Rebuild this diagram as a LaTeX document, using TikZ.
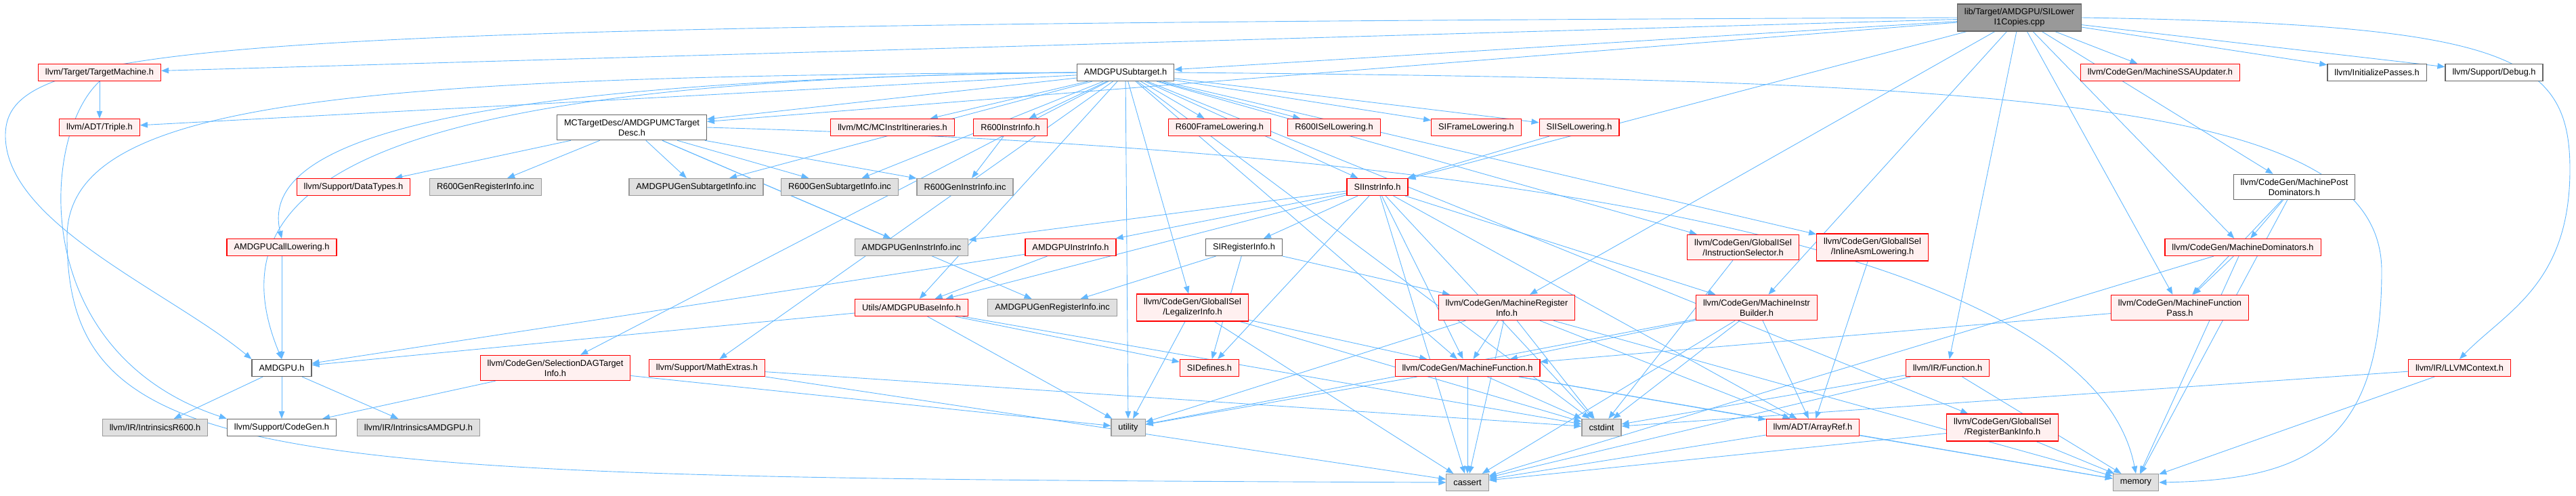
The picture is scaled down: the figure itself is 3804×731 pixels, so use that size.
\documentclass[tikz,border=0pt]{standalone}
\usepackage{fontspec}
\setmainfont{Liberation Sans}
\usetikzlibrary{arrows.meta, backgrounds}
\definecolor{edgec}{HTML}{63B8FF}
\definecolor{redc}{HTML}{FF0000}
\definecolor{redf}{HTML}{FFF0F0}
\definecolor{grayf}{HTML}{E0E0E0}
\definecolor{grayd}{HTML}{999999}
\definecolor{plaind}{HTML}{666666}
\tikzset{
  box/.style={rectangle, line width=1.2pt, inner xsep=10.5pt, inner ysep=6.5pt,
    minimum height=25pt, align=center, font=\fontsize{12.8}{15}\selectfont},
  hdr/.style={box, draw=redc, fill=redf},
  gen/.style={box, draw=grayd, fill=grayf},
  plain/.style={box, draw=plaind, fill=white},
  topfile/.style={box, draw=plaind, fill=grayd},
  dep/.style={-{Triangle[length=11pt,width=8.5pt]}, edgec, line width=0.9pt},
}

\begin{document}
\begin{tikzpicture}[x=1pt, y=-1pt]
    \useasboundingbox (0,0) rectangle (3804,731);
    \node[topfile] (root) at (2982,26) {lib/Target/AMDGPU/SILower\\I1Copies.cpp};
    % headers drawn red
    \foreach \n/\x/\y/\t in {tm/147/107/{llvm/Target/TargetMachine.h},
        triple/147/188/{llvm/ADT/Triple.h}, mcii/1318/188/{llvm/MC/MCInstrItineraries.h},
        r6ii/1492/188/{R600InstrInfo.h}, r6fl/1801/188/{R600FrameLowering.h},
        r6isel/1970/188/{R600ISelLowering.h}, sifl/2180/188/{SIFrameLowering.h},
        siisel/2332/188/{SIISelLowering.h}, ssa/3190/107/{llvm/CodeGen/MachineSSAUpdater.h},
        dtypes/522/276/{llvm/Support/DataTypes.h}, siii/2034/276/{SIInstrInfo.h},
        callow/416/365/{AMDGPUCallLowering.h}, aii/1581/365/{AMDGPUInstrInfo.h},
        isel/2574/365/{llvm/CodeGen/GlobalISel\\/InstructionSelector.h},
        asml/2765/365/{llvm/CodeGen/GlobalISel\\/InlineAsmLowering.h},
        mdom/3312/365/{llvm/CodeGen/MachineDominators.h}, binfo/1346/454/{Utils/AMDGPUBaseInfo.h},
        legal/1761/454/{llvm/CodeGen/GlobalISel\\/LegalizerInfo.h},
        mri/2225/454/{llvm/CodeGen/MachineRegister\\Info.h},
        mib/2594/454/{llvm/CodeGen/MachineInstr\\Builder.h},
        mfp/3219/454/{llvm/CodeGen/MachineFunction\\Pass.h},
        sdag/820/543/{llvm/CodeGen/SelectionDAGTarget\\Info.h},
        mathx/1044/543/{llvm/Support/MathExtras.h}, sidef/1786/543/{SIDefines.h},
        mf/2167/543/{llvm/CodeGen/MachineFunction.h}, func/2876/543/{llvm/IR/Function.h},
        ctx/3632/543/{llvm/IR/LLVMContext.h}, aref/2677/631/{llvm/ADT/ArrayRef.h},
        rbi/2957/631/{llvm/CodeGen/GlobalISel\\/RegisterBankInfo.h}}
      \node[hdr] (\n) at (\x,\y) {\t};
    % generated / system files
    \foreach \n/\x/\y/\t in {r6gri/717/276/{R600GenRegisterInfo.inc},
        agsi/1028/276/{AMDGPUGenSubtargetInfo.inc}, r6gsi/1240/276/{R600GenSubtargetInfo.inc},
        r6gii/1425/276/{R600GenInstrInfo.inc}, agii/1346/365/{AMDGPUGenInstrInfo.inc},
        agri/1554/454/{AMDGPUGenRegisterInfo.inc}, ir600/229/631/{llvm/IR/IntrinsicsR600.h},
        iamd/618/631/{llvm/IR/IntrinsicsAMDGPU.h}, util/1666/631/{utility},
        cstd/2365/631/{cstdint}, cass/2167/712/{cassert}, mem/3154/712/{memory}}
      \node[gen] (\n) at (\x,\y) {\t};
    \foreach \n/\x/\y/\t in {sub/1662/107/{AMDGPUSubtarget.h},
        mctd/933/188/{MCTargetDesc/AMDGPUMCTarget\\Desc.h},
        initp/3510/107/{llvm/InitializePasses.h}, dbg/3683/107/{llvm/Support/Debug.h},
        mpdom/3388/276/{llvm/CodeGen/MachinePost\\Dominators.h},
        siri/1837/365/{SIRegisterInfo.h}, amdgpu/416/543/{AMDGPU.h},
        cgen/416/631/{llvm/Support/CodeGen.h}}
      \node[plain] (\n) at (\x,\y) {\t};

    \begin{pgfonlayer}{background}
    \foreach \a/\b in {root/tm, root/sub, root/mctd, root/siii, root/mdom, root/mfp,
        root/mib, root/mpdom, root/mri, root/ssa, root/func, root/dbg, root/initp,
        sub/r6fl, sub/r6isel, sub/r6ii, sub/sifl, sub/siisel, sub/siii, sub/binfo,
        sub/triple, sub/asml, sub/isel, sub/legal, sub/rbi, sub/mf, sub/mcii, sub/cstd,
        sub/util, sub/agsi, sub/r6gsi, sub/mctd, sub/sdag, sub/mathx,
        mctd/dtypes, mctd/r6gri, mctd/agsi, mctd/r6gsi, mctd/r6gii, mctd/agii, mctd/agri,
        siii/agii, siii/aii, siii/siri, siii/binfo, siii/sidef, siii/mf, siii/mib,
        siii/aref, siii/cass, siii/cstd, siri/agri, siri/sidef, siri/mri,
        aii/binfo, aii/amdgpu, r6ii/r6gii, siisel/siii, callow/amdgpu, tm/triple,
        amdgpu/ir600, amdgpu/cgen, amdgpu/iamd, sdag/cgen, sdag/util,
        mathx/cstd, mathx/cass, binfo/amdgpu, binfo/sidef, binfo/util, binfo/cstd,
        legal/util, legal/cass, legal/cstd, legal/mf,
        mri/mf, mri/cstd, mri/aref, mri/cass, mri/mem, mri/util,
        mib/mf, mib/aref, mib/cstd, mib/cass, mib/util,
        mf/cass, mf/cstd, mf/aref, mf/mem, mf/util, aref/cass, aref/mem,
        isel/cstd, asml/aref, func/cstd, func/cass, func/mem, rbi/mem, rbi/cass,
        ctx/cstd, ctx/mem, mdom/mfp, mdom/mem, mdom/cass,
        mpdom/mdom, mpdom/mfp, mpdom/mem, mfp/mf}
      \draw[dep] (\a) -- (\b);
    % long edges routed round the outside
    \draw[dep] (root.west) .. controls (300,36) and (8,60) .. (8,200)
      .. controls (8,330) and (250,430) .. (amdgpu.north west);
    \draw[dep] (root.east) .. controls (3700,36) and (3795,80) .. (3795,250)
      .. controls (3795,420) and (3700,460) .. (ctx.north);
    \draw[dep] (sub.west) .. controls (500,112) and (99,150) .. (99,350)
      .. controls (99,700) and (400,705) .. (cass.west);
    \draw[dep] (sub.east) .. controls (3000,118) and (3517,150) .. (3517,400)
      .. controls (3517,660) and (3400,708) .. (mem.east);
    \draw[dep] (mctd.east) .. controls (2500,230) and (3100,420) .. (mem.north);
    \draw[dep] (tm.south) .. controls (60,200) and (40,520) .. (cgen.north west);
    \draw[dep] (sub.west) .. controls (700,118) and (380,200) .. (callow.north);
    \draw[dep] (sub.west) .. controls (600,116) and (300,250) .. (amdgpu.north);
    \end{pgfonlayer}
\end{tikzpicture}
\end{document}
